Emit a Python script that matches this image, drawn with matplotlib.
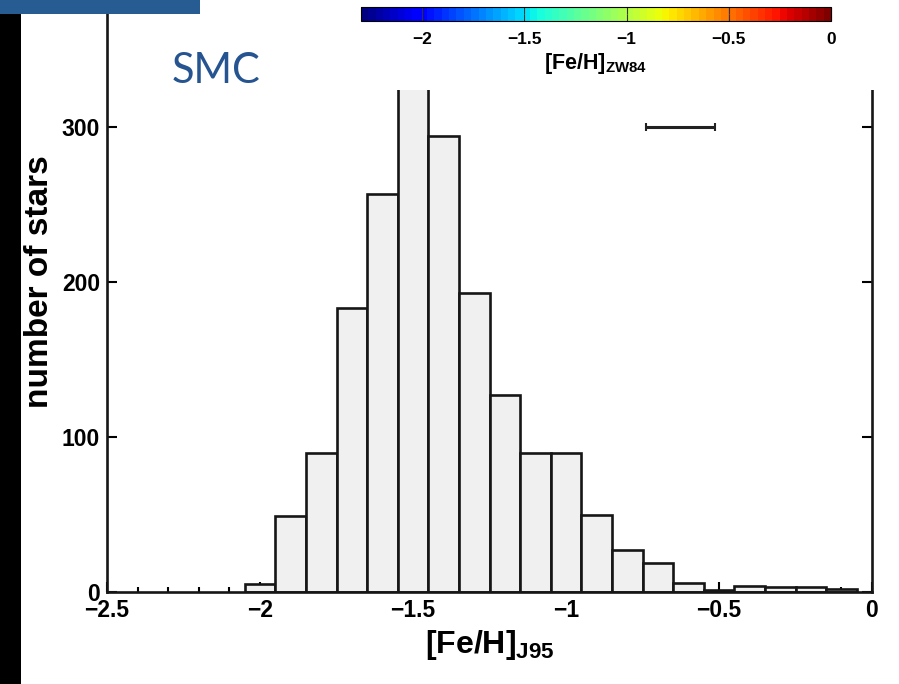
import numpy as np
import matplotlib
matplotlib.use("Agg")
import matplotlib.pyplot as plt
from matplotlib.patches import Rectangle
from matplotlib.cm import ScalarMappable
from matplotlib.colors import Normalize
from matplotlib.ticker import MultipleLocator

plt.rcParams['font.family'] = ['Liberation Sans', 'DejaVu Sans']
plt.rcParams['mathtext.fontset'] = 'custom'
plt.rcParams['mathtext.rm'] = 'Liberation Sans'
plt.rcParams['mathtext.bf'] = 'Liberation Sans:bold'

# histogram of [Fe/H]_J95, bins of 0.1 dex
bin_centers = [-2.0, -1.9, -1.8, -1.7, -1.6, -1.5, -1.4, -1.3, -1.2, -1.1,
               -1.0, -0.9, -0.8, -0.7, -0.6, -0.5, -0.4, -0.3, -0.2, -0.1]
counts = [5, 49, 90, 183, 257, 360, 294, 193, 127, 90,
          90, 50, 27, 19, 6, 1, 4, 3, 3, 2]
bin_width = 0.1

# typical error bar
err_x, err_y, err_half = -0.625, 300, 0.112

x_ticks = [-2.5, -2, -1.5, -1, -0.5, 0]
x_ticklabels = ['\u22122.5', '\u22122', '\u22121.5', '\u22121', '\u22120.5', '0']
y_ticks = [0, 100, 200, 300]
cb_ticks = [-2, -1.5, -1, -0.5, 0]
cb_ticklabels = ['\u22122', '\u22121.5', '\u22121', '\u22120.5', '0']

W, H = 899, 684
fig = plt.figure(figsize=(W / 100, H / 100), dpi=100)

# main axes (top runs past the figure edge, as in the cropped slide)
ax = fig.add_axes([107 / W, 1 - 592 / H, 765 / W, 620 / H])
ax.bar(bin_centers, counts, width=bin_width, color='#f0f0f0',
       edgecolor='#161616', linewidth=1.9, zorder=2)
ax.errorbar([err_x], [err_y], xerr=[err_half], fmt='none', ecolor='#222222',
            elinewidth=2.2, capsize=3, capthick=1.5, zorder=3)

ax.set_xlim(-2.5, 0)
ax.set_ylim(0, 400)
ax.set_xticks(x_ticks)
ax.set_xticklabels(x_ticklabels)
ax.xaxis.set_minor_locator(MultipleLocator(0.1))
ax.set_yticks(y_ticks)
ax.tick_params(axis='both', which='both', direction='in', top=True, right=True,
               width=1.5, labelsize=16.5, pad=5)
ax.tick_params(axis='both', which='major', length=7)
ax.tick_params(axis='x', which='minor', length=3.5)
for lab in ax.get_xticklabels() + ax.get_yticklabels():
    lab.set_fontweight('bold')
for s in ax.spines.values():
    s.set_linewidth(1.9)
    s.set_color('#161616')
ax.set_xlabel(r'$\mathbf{[Fe/H]_{J95}}$', fontsize=23, labelpad=4)
ax.set_ylabel('number of stars', fontsize=24, fontweight='bold', labelpad=5)

# white panel holding the colorbar, covering the top of the plot
fig.patches.append(Rectangle((300 / W, 1 - 90 / H), 1, 90 / H,
                             transform=fig.transFigure, facecolor='white',
                             edgecolor='none', zorder=5))

cax = fig.add_axes([361 / W, 1 - 21 / H, 470 / W, 14 / H], zorder=6)
sm = ScalarMappable(norm=Normalize(-2.3, 0), cmap=plt.get_cmap('jet', 64))
cb = fig.colorbar(sm, cax=cax, orientation='horizontal')
cb.set_ticks(cb_ticks)
cb.set_ticklabels(cb_ticklabels)
cb.outline.set_linewidth(0.8)
cax.tick_params(direction='in', length=5, width=0.8, labelsize=12.5,
                top=True, pad=8, color='#333333')
for lab in cax.get_xticklabels():
    lab.set_fontweight('bold')
cax.set_xlabel(r'$\mathbf{[Fe/H]_{ZW84}}$', fontsize=15.5, labelpad=3)

# slide decorations
fig.patches.append(Rectangle((0, 1 - 14 / H), 200 / W, 14 / H,
                             transform=fig.transFigure, facecolor='#265c91',
                             edgecolor='none', zorder=7))
fig.patches.append(Rectangle((0, 0), 21 / W, 1 - 14 / H,
                             transform=fig.transFigure, facecolor='black',
                             edgecolor='none', zorder=7))
fig.text(172 / W, 1 - 83 / H, 'SMC', fontsize=30, color='#265490',
         family=['Lato', 'DejaVu Sans'], zorder=8)

fig.savefig('out.png', dpi=100)
